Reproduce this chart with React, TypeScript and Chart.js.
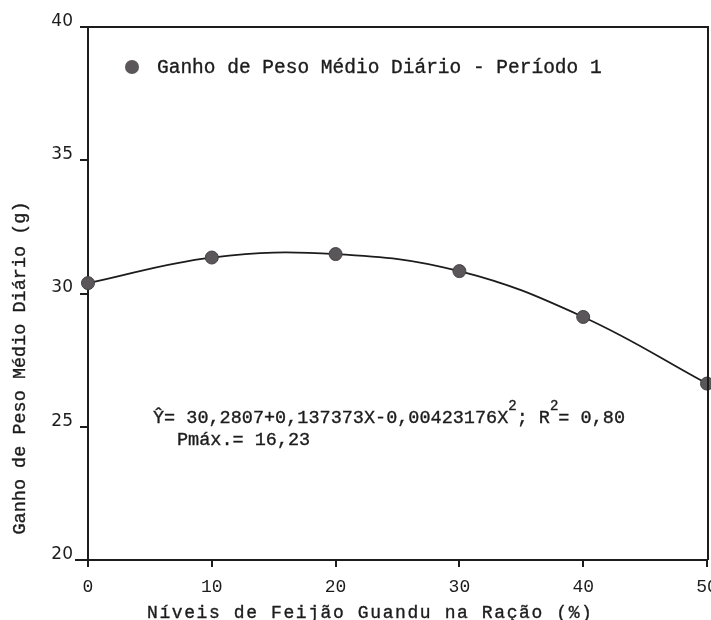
import React, { useEffect, useRef } from 'react';
import { Chart, registerables } from 'chart.js';

Chart.register(...registerables);

// ---- data ----
const levels = [0, 10, 20, 30, 40, 50];
const gain = [30.39, 31.35, 31.48, 30.84, 29.12, 26.62];
const xTicks = [0, 10, 20, 30, 40, 50];
const yTicks = [20, 25, 30, 35, 40];
const legendLabel = 'Ganho de Peso Médio Diário - Período 1';
const xTitle = 'Níveis de Feijão Guandu na Ração (%)';
const yTitle = 'Ganho de Peso Médio Diário (g)';
const equationParts: [string, boolean][] = [
  ['Ŷ= 30,2807+0,137373X-0,00423176X', false],
  ['2', true],
  ['; R', false],
  ['2', true],
  ['= 0,80', false],
];
const pmaxText = 'Pmáx.= 16,23';

const INK = '#1c1c1c';
const MARK = '#5b5659';
const MONO = "'Liberation Mono', 'DejaVu Sans Mono', monospace";
const SANS = "'DejaVu Sans', sans-serif";

function inkText(ctx: CanvasRenderingContext2D, t: string, x: number, y: number) {
  ctx.fillText(t, x, y);
  ctx.strokeText(t, x, y);
}

const annotate = {
  id: 'annotate',
  beforeDraw(chart: any) {
    const c = chart.ctx;
    c.save();
    c.fillStyle = '#ffffff';
    c.fillRect(0, 0, chart.width, chart.height);
    c.restore();
  },
  afterDraw(chart: any) {
    const ctx = chart.ctx as CanvasRenderingContext2D;
    const a = chart.chartArea;
    ctx.save();
    // frame top & right
    ctx.strokeStyle = INK;
    ctx.lineWidth = 2;
    ctx.beginPath();
    ctx.moveTo(a.left, a.top);
    ctx.lineTo(a.right + 1, a.top);
    ctx.lineTo(a.right + 1, a.bottom);
    ctx.stroke();
    // x axis slight extension to the left
    ctx.beginPath();
    ctx.moveTo(a.left - 13, a.bottom);
    ctx.lineTo(a.left, a.bottom);
    ctx.stroke();

    ctx.fillStyle = INK;
    ctx.textAlign = 'left';
    ctx.textBaseline = 'alphabetic';

    // legend
    ctx.beginPath();
    ctx.arc(132, 67, 7, 0, Math.PI * 2);
    ctx.fillStyle = MARK;
    ctx.fill();
    ctx.fillStyle = INK;
    ctx.strokeStyle = INK;
    ctx.lineWidth = 0.35;
    ctx.font = `19.5px ${MONO}`;
    inkText(ctx, legendLabel, 157, 73);

    // equation
    let x = 153;
    for (const [t, sup] of equationParts) {
      ctx.font = sup ? `14px ${MONO}` : `18.5px ${MONO}`;
      inkText(ctx, t, x, sup ? 410 : 423);
      x += ctx.measureText(t).width;
    }
    ctx.font = `18.5px ${MONO}`;
    inkText(ctx, pmaxText, 177, 445);

    // x title
    (ctx as any).letterSpacing = '1.6px';
    ctx.font = `18px ${MONO}`;
    inkText(ctx, xTitle, 147, 618);
    (ctx as any).letterSpacing = '0px';

    // y title
    ctx.translate(25, 368);
    ctx.rotate(-Math.PI / 2);
    ctx.textAlign = 'center';
    ctx.font = `18.5px ${MONO}`;
    inkText(ctx, yTitle, 0, 0);
    ctx.restore();
  },
};

export default function App() {
  const ref = useRef<HTMLCanvasElement | null>(null);
  useEffect(() => {
    if (!ref.current) return;
    const chart = new Chart(ref.current, {
      type: 'line',
      data: {
        datasets: [
          {
            label: legendLabel,
            data: levels.map((v, i) => ({ x: v, y: gain[i] })),
            borderColor: INK,
            borderWidth: 1.8,
            tension: 0.4,
            pointRadius: 6.5,
            pointBackgroundColor: MARK,
            pointBorderColor: '#454144',
            pointBorderWidth: 1,
            clip: false as any,
          },
        ],
      },
      options: {
        responsive: false,
        animation: false,
        devicePixelRatio: 1,
        layout: { padding: { left: 0, top: 27, right: 33, bottom: 0 } },
        plugins: { legend: { display: false }, tooltip: { enabled: false } },
        scales: {
          x: {
            type: 'linear',
            min: 0,
            max: 50,
            afterBuildTicks: (s: any) => {
              s.ticks = xTicks.map((v) => ({ value: v }));
            },
            afterFit: (s: any) => {
              s.height = 60;
            },
            grid: {
              drawOnChartArea: false,
              drawTicks: true,
              tickLength: 7,
              color: INK,
              lineWidth: 2,
            },
            border: { display: true, color: INK, width: 2 },
            ticks: {
              autoSkip: false,
              maxRotation: 0,
              padding: 9,
              color: INK,
              font: { family: MONO, size: 18 },
            },
          },
          y: {
            type: 'linear',
            min: 20,
            max: 40,
            afterBuildTicks: (s: any) => {
              s.ticks = yTicks.map((v) => ({ value: v }));
            },
            afterFit: (s: any) => {
              s.width = 88;
            },
            grid: {
              drawOnChartArea: false,
              drawTicks: true,
              tickLength: 8,
              color: INK,
              lineWidth: 2,
            },
            border: { display: true, color: INK, width: 2 },
            ticks: {
              padding: 7,
              labelOffset: -5.5,
              color: INK,
              font: { family: SANS, size: 17 },
            },
          },
        },
      },
      plugins: [annotate],
    });
    return () => chart.destroy();
  }, []);

  return (
    <div
      style={{
        position: 'fixed',
        left: 0,
        top: 0,
        width: 711,
        height: 620,
        overflow: 'hidden',
        background: '#fff',
      }}
    >
      <canvas ref={ref} width={740} height={620} style={{ display: 'block' }} />
    </div>
  );
}
